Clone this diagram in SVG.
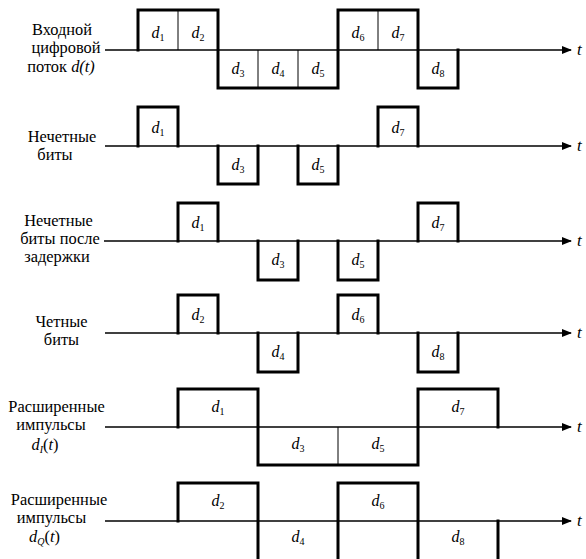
<svg xmlns="http://www.w3.org/2000/svg" width="586" height="559" viewBox="0 0 586 559">
<defs>
<marker id="arr" markerWidth="10" markerHeight="8" refX="9" refY="4" orient="auto" markerUnits="userSpaceOnUse">
<path d="M0,0 L10,4 L0,8 Z" fill="#000"/>
</marker>
<style>
text{font-family:'Liberation Serif','DejaVu Serif','Times New Roman',serif}
.lbl{font-size:16.4px;fill:#000;text-anchor:middle}
.d{font-size:16px;font-style:italic;fill:#000;text-anchor:middle}
.s{font-size:10px;font-style:normal}
.t{font-size:17px;font-style:italic;fill:#000}
.wave{fill:none;stroke:#000;stroke-width:3;stroke-linejoin:miter;stroke-linecap:square}
.div{stroke:#000;stroke-width:1;fill:none}
.axis{stroke:#000;stroke-width:1.6;fill:none}
</style>
</defs>
<rect width="586" height="559" fill="#fff"/>
<g id="connectors">
<line class="axis" x1="105" y1="50" x2="571" y2="50" marker-end="url(#arr)"/>
<line class="axis" x1="105" y1="146" x2="571" y2="146" marker-end="url(#arr)"/>
<line class="axis" x1="104" y1="241" x2="571" y2="241" marker-end="url(#arr)"/>
<line class="axis" x1="105" y1="333" x2="571" y2="333" marker-end="url(#arr)"/>
<line class="axis" x1="105" y1="427" x2="571" y2="427" marker-end="url(#arr)"/>
<line class="axis" x1="105" y1="521" x2="571" y2="521" marker-end="url(#arr)"/>
</g>
<g font-family="Liberation Serif, DejaVu Serif, serif">
<g id="row1">
<text class="lbl" x="62" y="35">Входной</text>
<text class="lbl" x="66" y="53">цифровой</text>
<text class="lbl" x="61" y="72">поток <tspan font-style="italic">d(t)</tspan></text>
<path class="wave" d="M138,50 V10 H218 V88 H338 V10 H418 V88 H458 V50"/>
<path class="div" d="M178,10 V50 M258,50 V88 M298,50 V88 M378,10 V50"/>
<text class="d" x="158" y="38">d<tspan class="s" dy="3">1</tspan></text>
<text class="d" x="198" y="38">d<tspan class="s" dy="3">2</tspan></text>
<text class="d" x="238" y="74">d<tspan class="s" dy="3">3</tspan></text>
<text class="d" x="278" y="74">d<tspan class="s" dy="3">4</tspan></text>
<text class="d" x="318" y="74">d<tspan class="s" dy="3">5</tspan></text>
<text class="d" x="358" y="38">d<tspan class="s" dy="3">6</tspan></text>
<text class="d" x="398" y="38">d<tspan class="s" dy="3">7</tspan></text>
<text class="d" x="438" y="74">d<tspan class="s" dy="3">8</tspan></text>
<text class="t" x="577" y="55">t</text>
</g>
<g id="row2">
<text class="lbl" x="62" y="142">Нечетные</text>
<text class="lbl" x="55" y="160">биты</text>
<path class="wave" d="M138,146 V107 H178 V146 M218,146 V184 H258 V146 M298,146 V184 H338 V146 M378,146 V107 H418 V146"/>
<text class="d" x="158" y="133">d<tspan class="s" dy="3">1</tspan></text>
<text class="d" x="238" y="170">d<tspan class="s" dy="3">3</tspan></text>
<text class="d" x="318" y="170">d<tspan class="s" dy="3">5</tspan></text>
<text class="d" x="398" y="133">d<tspan class="s" dy="3">7</tspan></text>
<text class="t" x="577" y="151">t</text>
</g>
<g id="row3">
<text class="lbl" x="58.5" y="226">Нечетные</text>
<text class="lbl" x="60" y="244">биты после</text>
<text class="lbl" x="57" y="262">задержки</text>
<path class="wave" d="M178,241 V203 H218 V241 M258,241 V280 H298 V241 M338,241 V280 H378 V241 M418,241 V203 H458 V241"/>
<text class="d" x="198" y="228">d<tspan class="s" dy="3">1</tspan></text>
<text class="d" x="278" y="265">d<tspan class="s" dy="3">3</tspan></text>
<text class="d" x="358" y="265">d<tspan class="s" dy="3">5</tspan></text>
<text class="d" x="438" y="228">d<tspan class="s" dy="3">7</tspan></text>
<text class="t" x="577" y="246">t</text>
</g>
<g id="row4">
<text class="lbl" x="61.5" y="327">Четные</text>
<text class="lbl" x="61.5" y="345">биты</text>
<path class="wave" d="M178,333 V295 H218 V333 M258,333 V372 H298 V333 M338,333 V295 H378 V333 M418,333 V372 H458 V333"/>
<text class="d" x="198" y="320">d<tspan class="s" dy="3">2</tspan></text>
<text class="d" x="278" y="357">d<tspan class="s" dy="3">4</tspan></text>
<text class="d" x="358" y="320">d<tspan class="s" dy="3">6</tspan></text>
<text class="d" x="438" y="357">d<tspan class="s" dy="3">8</tspan></text>
<text class="t" x="577" y="338">t</text>
</g>
<g id="row5">
<text class="lbl" x="56.5" y="412">Расширенные</text>
<text class="lbl" x="51" y="430">импульсы</text>
<text class="lbl" x="45" y="450"><tspan font-style="italic">d</tspan><tspan font-style="italic" font-size="10" dy="3">I</tspan><tspan dy="-3">(</tspan><tspan font-style="italic">t</tspan>)</text>
<path class="wave" d="M178,427 V389 H258 V465 H418 V389 H498 V427"/>
<path class="div" d="M338,427 V465"/>
<text class="d" x="218" y="412">d<tspan class="s" dy="3">1</tspan></text>
<text class="d" x="298" y="449">d<tspan class="s" dy="3">3</tspan></text>
<text class="d" x="378" y="449">d<tspan class="s" dy="3">5</tspan></text>
<text class="d" x="458" y="412">d<tspan class="s" dy="3">7</tspan></text>
<text class="t" x="577" y="432">t</text>
</g>
<g id="row6">
<text class="lbl" x="59" y="505">Расширенные</text>
<text class="lbl" x="51.5" y="523">импульсы</text>
<text class="lbl" x="44.5" y="542"><tspan font-style="italic">d</tspan><tspan font-style="italic" font-size="10" dy="3">Q</tspan><tspan dy="-3">(</tspan><tspan font-style="italic">t</tspan>)</text>
<path class="wave" d="M178,521 V483 H258 V566 M338,566 V483 H418 V566 M498,521 V566"/>
<text class="d" x="218" y="506">d<tspan class="s" dy="3">2</tspan></text>
<text class="d" x="298" y="542">d<tspan class="s" dy="3">4</tspan></text>
<text class="d" x="378" y="506">d<tspan class="s" dy="3">6</tspan></text>
<text class="d" x="458" y="542">d<tspan class="s" dy="3">8</tspan></text>
<text class="t" x="577" y="526">t</text>
</g>
</g>
</svg>
